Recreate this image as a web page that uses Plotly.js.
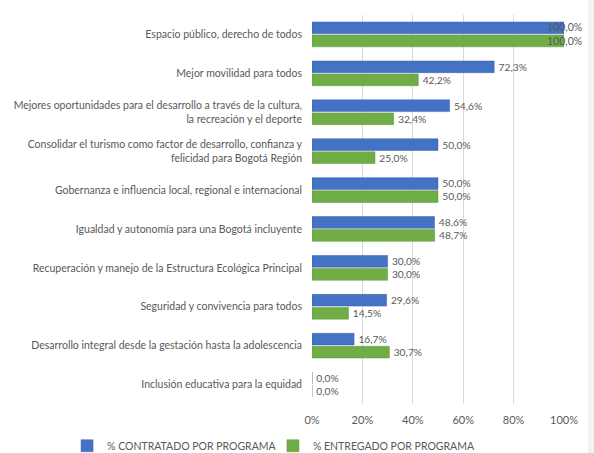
<!DOCTYPE html>
<html>
<head>
<meta charset="utf-8">
<script src="https://cdn.plot.ly/plotly-3.0.1.min.js"></script>
<style>html,body{margin:0;padding:0;background:#fff;}#chart{width:594px;height:453px;}</style>
</head>
<body>
<div id="chart"></div>
<script>
const categories = [
  "Espacio público, derecho de todos",
  "Mejor movilidad para todos",
  "Mejores oportunidades para el desarrollo a través de la cultura,<br>la recreación y el deporte",
  "Consolidar el turismo como factor de desarrollo, confianza y<br>felicidad para Bogotá Región",
  "Gobernanza e influencia local, regional e internacional",
  "Igualdad y autonomía para una Bogotá incluyente",
  "Recuperación y manejo de la Estructura Ecológica Principal",
  "Seguridad y convivencia para todos",
  "Desarrollo integral desde la gestación hasta la adolescencia",
  "Inclusión educativa para la equidad"
];
const contratado = [100.0, 72.3, 54.6, 50.0, 50.0, 48.6, 30.0, 29.6, 16.7, 0.0];
const entregado = [100.0, 42.2, 32.4, 25.0, 50.0, 48.7, 30.0, 14.5, 30.7, 0.0];
const seriesNames = ["% CONTRATADO POR PROGRAMA", "% ENTREGADO POR PROGRAMA"];
const tickVals = [0, 20, 40, 60, 80, 100];

const font = "Lato, 'Open Sans', sans-serif";
const txtColor = "#595959";
const fmt = v => v.toFixed(1).replace(".", ",") + "%";

// labels that would run past the axis end are drawn as annotations centred on the bar end
function positions(vals) { return vals.map(v => v >= 100 ? "none" : "outside"); }

const traces = [
  {type: "bar", orientation: "h", name: seriesNames[0], y: categories, x: contratado, legend: "legend",
   marker: {color: "#4472C4", line: {color: "#3a63ad", width: 0.5}},
   texttemplate: "\u2009%{x:.1f}%", textposition: positions(contratado), cliponaxis: false,
   textfont: {family: font, size: 10.5, color: txtColor}},
  {type: "bar", orientation: "h", name: seriesNames[1], y: categories, x: entregado, legend: "legend2",
   marker: {color: "#70AD47", line: {color: "#5f9a3a", width: 0.5}},
   texttemplate: "\u2009%{x:.1f}%", textposition: positions(entregado), cliponaxis: false,
   textfont: {family: font, size: 10.5, color: txtColor}}
];

const annotations = [];
[[contratado, -7], [entregado, 7]].forEach(([vals, shift]) => {
  vals.forEach((v, i) => {
    if (v >= 100) {
      annotations.push({x: v, y: categories[i], xref: "x", yref: "y", text: fmt(v), showarrow: false,
        xanchor: "center", yanchor: "middle", yshift: -shift,
        font: {family: font, size: 10.5, color: txtColor}});
    }
  });
});

const legendBase = {orientation: "h", xref: "paper", xanchor: "left", yref: "container", y: 0.016, yanchor: "middle",
                    font: {family: font, size: 10.5, color: txtColor}, bgcolor: "rgba(0,0,0,0)"};

const layout = {
  width: 594, height: 453,
  margin: {l: 312, r: 30, t: 15, b: 49, autoexpand: false},
  barmode: "group", bargap: 0.33, bargroupgap: 0.1,
  separators: ",.",
  paper_bgcolor: "#fff", plot_bgcolor: "#fff",
  font: {family: font, size: 11, color: txtColor},
  xaxis: {range: [0, 100], tickmode: "array", tickvals: tickVals, ticktext: tickVals.map(v => v + "%"),
          showgrid: true, automargin: false, ticklabelstandoff: 8,
          gridcolor: "#d9d9d9", gridwidth: 1, zeroline: false, showline: false,
          ticks: "", tickfont: {family: font, size: 11, color: txtColor}, fixedrange: true},
  yaxis: {autorange: "reversed", showgrid: false, zeroline: false, showline: false, ticks: "", automargin: false,
          ticklabelstandoff: 9,
          tickfont: {family: font, size: 10.5, color: txtColor}, fixedrange: true},
  legend: Object.assign({}, legendBase, {x: -0.972}),
  legend2: Object.assign({}, legendBase, {x: -0.155}),
  annotations: annotations,
  shapes: [{type: "rect", xref: "paper", yref: "paper", x0: 1.095, x1: 1.2, y0: -0.2, y1: 1.1,
            fillcolor: "#f2f2f2", line: {width: 0}, layer: "below"}],
  showlegend: true
};

Plotly.newPlot("chart", traces, layout, {displayModeBar: false, staticPlot: true});
</script>
</body>
</html>
